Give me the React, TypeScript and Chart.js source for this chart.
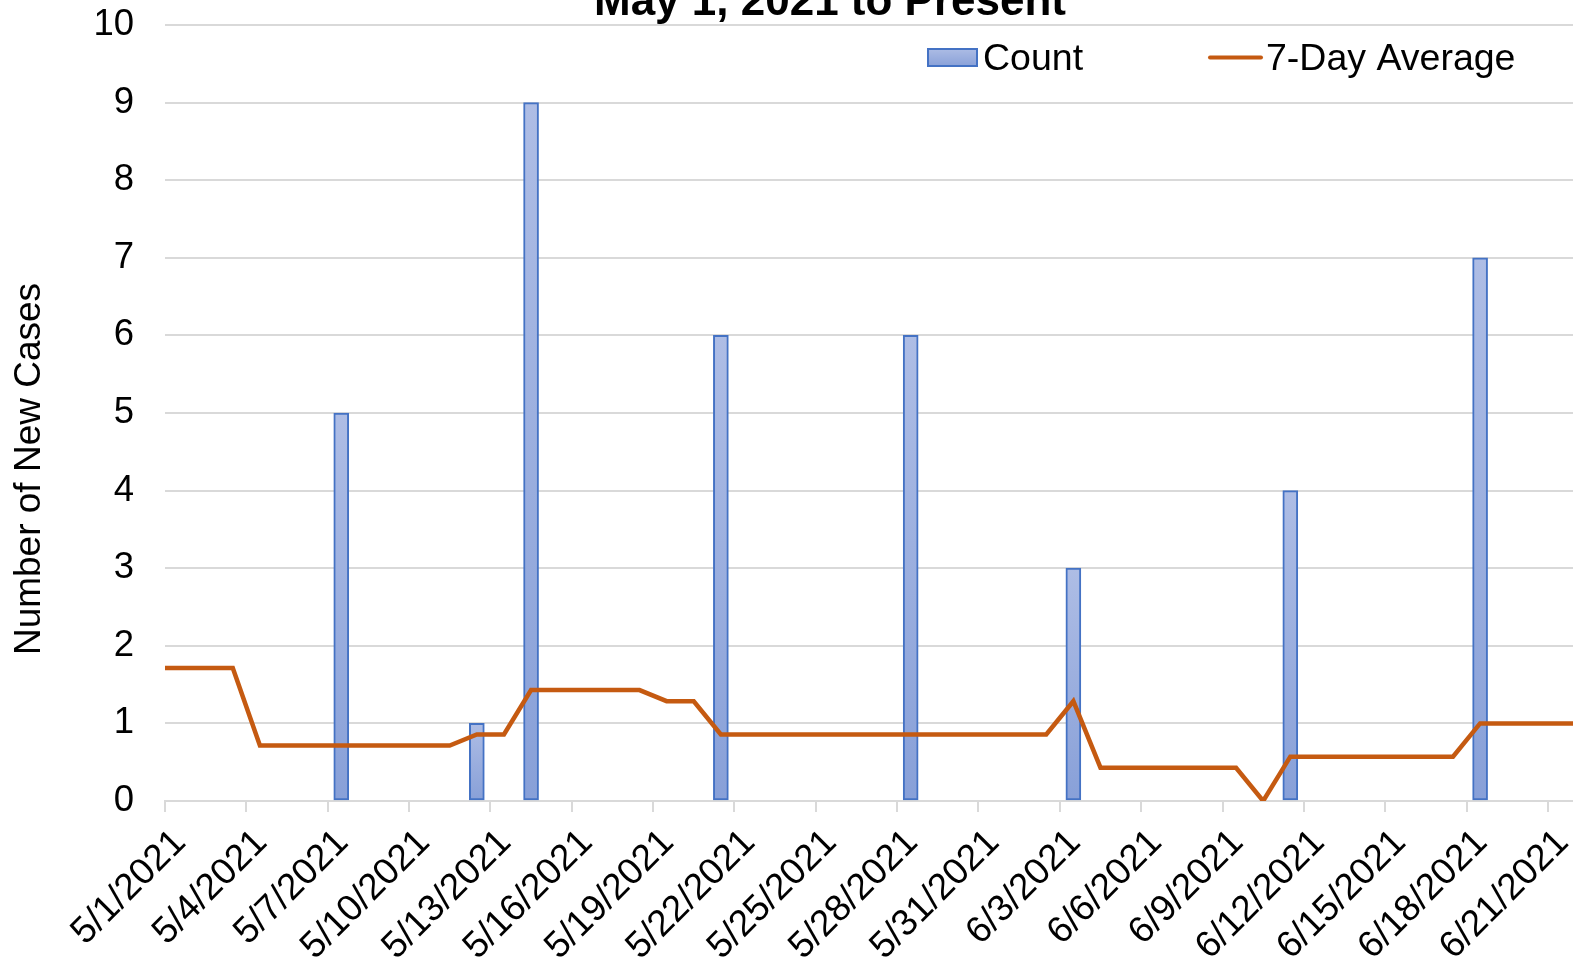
import React, { useEffect, useRef } from 'react';
import { Chart, registerables } from 'chart.js';

Chart.register(...registerables);

const titleText = 'May 1, 2021 to Present';
const yAxisTitle = 'Number of New Cases';
const seriesNames = ['Count', '7-Day Average'];

const days = [
  '5/1/2021', '5/2/2021', '5/3/2021', '5/4/2021', '5/5/2021', '5/6/2021', '5/7/2021', '5/8/2021', '5/9/2021', '5/10/2021',
  '5/11/2021', '5/12/2021', '5/13/2021', '5/14/2021', '5/15/2021', '5/16/2021', '5/17/2021', '5/18/2021', '5/19/2021', '5/20/2021',
  '5/21/2021', '5/22/2021', '5/23/2021', '5/24/2021', '5/25/2021', '5/26/2021', '5/27/2021', '5/28/2021', '5/29/2021', '5/30/2021',
  '5/31/2021', '6/1/2021', '6/2/2021', '6/3/2021', '6/4/2021', '6/5/2021', '6/6/2021', '6/7/2021', '6/8/2021', '6/9/2021',
  '6/10/2021', '6/11/2021', '6/12/2021', '6/13/2021', '6/14/2021', '6/15/2021', '6/16/2021', '6/17/2021', '6/18/2021', '6/19/2021',
  '6/20/2021', '6/21/2021',
];

const counts = [
  0, 0, 0, 0, 0, 0, 5, 0, 0, 0,
  0, 1, 0, 9, 0, 0, 0, 0, 0, 0,
  6, 0, 0, 0, 0, 0, 0, 6, 0, 0,
  0, 0, 0, 3, 0, 0, 0, 0, 0, 0,
  0, 4, 0, 0, 0, 0, 0, 0, 7, 0,
  0, 0,
];

// 7-day average: one value before 5/1 (4/30) and one after 6/21 (6/22), clipped by the plot edges
const avgDays = ['4/30/2021', ...days, '6/22/2021'];
const avg7 = [
  1.714,
  1.714, 1.714, 1.714,
  0.714, 0.714, 0.714, 0.714, 0.714, 0.714, 0.714, 0.714,
  0.857, 0.857,
  1.429, 1.429, 1.429, 1.429, 1.429,
  1.286, 1.286,
  0.857, 0.857, 0.857, 0.857, 0.857, 0.857, 0.857, 0.857, 0.857, 0.857, 0.857, 0.857, 0.857,
  1.286,
  0.429, 0.429, 0.429, 0.429, 0.429, 0.429,
  0,
  0.571, 0.571, 0.571, 0.571, 0.571, 0.571, 0.571,
  1.0, 1.0, 1.0, 1.0,
  1.0,
];

const yTicks = [0, 1, 2, 3, 4, 5, 6, 7, 8, 9, 10];
const tickEvery = 3;

const FONT = '"Liberation Sans", Arial, sans-serif';
const BAR_TOP = '#aebde5';
const BAR_BOTTOM = '#88a0d8';
const BAR_BORDER = '#4472c4';
const LINE_COLOR = '#c55a11';
const GRID = '#d9d9d9';

const decorPlugin = {
  id: 'decor',
  afterDraw(chart: any) {
    const ctx = chart.ctx as CanvasRenderingContext2D;
    ctx.save();
    ctx.fillStyle = '#000';
    // title (partially cut at top, as in reference)
    ctx.font = `bold 44px ${FONT}`;
    ctx.textAlign = 'center';
    ctx.textBaseline = 'alphabetic';
    ctx.fillText(titleText, 830, 15);

    // y axis title
    ctx.save();
    ctx.translate(40, 469);
    ctx.rotate(-Math.PI / 2);
    ctx.font = `37px ${FONT}`;
    ctx.textAlign = 'center';
    ctx.textBaseline = 'alphabetic';
    ctx.fillText(yAxisTitle, 0, 0);
    ctx.restore();

    // legend
    const g = ctx.createLinearGradient(0, 48, 0, 67);
    g.addColorStop(0, BAR_TOP);
    g.addColorStop(1, BAR_BOTTOM);
    ctx.fillStyle = g;
    ctx.fillRect(927, 48, 51, 19);
    ctx.strokeStyle = BAR_BORDER;
    ctx.lineWidth = 2;
    ctx.strokeRect(928, 49, 49, 17);

    ctx.fillStyle = '#000';
    ctx.font = `37.5px ${FONT}`;
    ctx.textAlign = 'left';
    ctx.textBaseline = 'alphabetic';
    ctx.fillText(seriesNames[0], 983, 70);

    ctx.strokeStyle = LINE_COLOR;
    ctx.lineWidth = 4;
    ctx.lineCap = 'round';
    ctx.beginPath();
    ctx.moveTo(1210, 57.5);
    ctx.lineTo(1261, 57.5);
    ctx.stroke();

    ctx.fillText(seriesNames[1], 1266, 70);
    ctx.restore();
  },
};

export default function App() {
  const canvasRef = useRef<HTMLCanvasElement | null>(null);

  useEffect(() => {
    const canvas = canvasRef.current;
    if (!canvas) return;

    const barData = counts.map((v, i) => ({ x: i + 0.5, y: v > 0 ? v : null }));
    const lineData = avg7.map((v, i) => ({ x: i - 0.5, y: v, label: avgDays[i] }));
    const tickValues = days.map((_, i) => i).filter((i) => i % tickEvery === 0);

    const chart = new Chart(canvas, {
      type: 'bar',
      data: {
        datasets: [
          {
            type: 'line',
            label: seriesNames[1],
            data: lineData as any,
            borderColor: LINE_COLOR,
            borderWidth: 4.5,
            pointRadius: 0,
            tension: 0,
            fill: false,
            clip: 0,
            order: 0,
          } as any,
          {
            type: 'bar',
            label: seriesNames[0],
            data: barData as any,
            barThickness: 15,
            borderWidth: 2,
            borderColor: BAR_BORDER,
            borderSkipped: false,
            order: 1,
            backgroundColor: (c: any) => {
              const ch = c.chart;
              const ys = ch.scales && ch.scales.y;
              if (c.type !== 'data' || !ys || !c.raw || c.raw.y == null) return '#9db0e0';
              const top = ys.getPixelForValue(c.raw.y);
              const bottom = ys.getPixelForValue(0);
              const g = ch.ctx.createLinearGradient(0, top, 0, bottom);
              g.addColorStop(0, BAR_TOP);
              g.addColorStop(1, BAR_BOTTOM);
              return g;
            },
          } as any,
        ],
      },
      options: {
        animation: false,
        responsive: false,
        events: [],
        layout: { padding: { top: 25, right: 15, left: 0, bottom: 0 } },
        plugins: {
          legend: { display: false },
          tooltip: { enabled: false },
          title: { display: false },
        },
        scales: {
          x: {
            type: 'linear',
            offset: false,
            min: 0,
            max: days.length,
            afterBuildTicks: (scale: any) => {
              scale.ticks = tickValues.map((v) => ({ value: v }));
            },
            afterFit: (scale: any) => {
              scale.height = 168;
              scale.paddingLeft = 0;
              scale.paddingRight = 0;
            },
            ticks: {
              autoSkip: false,
              maxRotation: 45,
              minRotation: 45,
              padding: 9,
              labelOffset: 15,
              color: '#000',
              font: { family: FONT, size: 37 },
              callback: (v: any) => days[Math.round(Number(v))] ?? '',
            },
            grid: {
              offset: false,
              drawOnChartArea: false,
              drawTicks: true,
              tickLength: 11,
              color: GRID,
              lineWidth: 2,
            },
            border: { display: true, color: GRID, width: 2 },
          },
          y: {
            type: 'linear',
            min: yTicks[0],
            max: yTicks[yTicks.length - 1],
            afterBuildTicks: (scale: any) => {
              scale.ticks = yTicks.map((v) => ({ value: v }));
            },
            afterFit: (scale: any) => {
              scale.width = 165;
              scale.paddingTop = 0;
              scale.paddingBottom = 0;
            },
            ticks: {
              padding: 31,
              color: '#000',
              font: { family: FONT, size: 36.5 },
            },
            grid: {
              color: GRID,
              lineWidth: 2,
              drawTicks: false,
            },
            border: { display: false },
          },
        },
      } as any,
      plugins: [decorPlugin],
    });

    return () => chart.destroy();
  }, []);

  return (
    <div
      style={{
        position: 'fixed',
        left: 0,
        top: 0,
        width: 1573,
        height: 969,
        overflow: 'hidden',
        background: '#fff',
      }}
    >
      <canvas ref={canvasRef} width={1590} height={969} style={{ display: 'block', width: 1590, height: 969 }} />
    </div>
  );
}
